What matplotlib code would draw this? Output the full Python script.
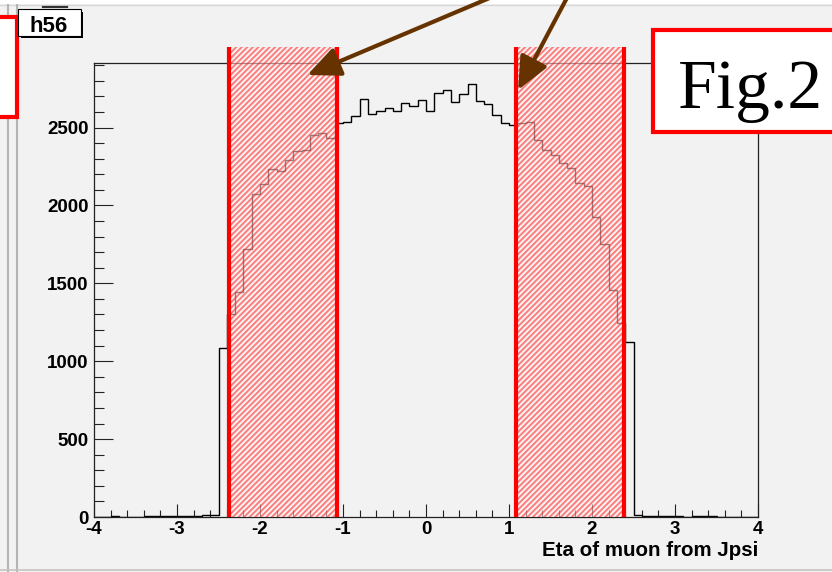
import matplotlib.pyplot as plt
import numpy as np
from matplotlib.lines import Line2D
from matplotlib.patches import Rectangle
from matplotlib.ticker import MultipleLocator

plt.rcParams.update({"font.family": ["Liberation Sans", "DejaVu Sans"],
                     "font.weight": "bold",
                     "axes.unicode_minus": False,
                     "hatch.linewidth": 1.3})

W, H = 832, 572

# eta of muons from J/psi, 80 bins of 0.1 between -4 and 4
edges = np.linspace(-4, 4, 81)
counts = [0, 0, 4, 0, 0, 3, 6, 5, 4, 6, 7, 5, 8, 12, 14,
          1087, 1300, 1446, 1718, 2071, 2135, 2231, 2221, 2291, 2349,
          2356, 2452, 2467, 2435, 2528, 2537, 2574, 2681, 2587, 2608,
          2623, 2608, 2655, 2640, 2674, 2608, 2723, 2741, 2662, 2713,
          2779, 2670, 2651, 2580, 2531, 2516, 2528, 2534, 2420, 2356,
          2323, 2270, 2242, 2142, 2125, 1928, 1750, 1457, 1243, 1125,
          13, 5, 4, 6, 4, 5, 3, 4, 5, 4, 0, 0, 3, 0, 0]
y_max = 2914

# shaded eta windows
band_lo = [-2.37, 1.09]
band_hi = [-1.07, 2.39]
band_top = 3015

# arrow tips (data) and tails (figure pixels, off the top edge)
arrow_tips = [(-1.43, 2837), (1.11, 2741)]
arrow_tails = [(499, 578), (569, 578)]


def px(x, y):
    """top-left pixel position -> figure fraction"""
    return x / W, 1 - y / H


def fig_rect(fig, x0, y0, x1, y1, **kw):
    fx0, fy1 = px(x0, y1)
    rect = Rectangle((fx0, fy1), (x1 - x0) / W, (y1 - y0) / H,
                     transform=fig.transFigure, **kw)
    fig.patches.append(rect)
    return rect


def fig_line(fig, xs, ys, **kw):
    fxs = [x / W for x in xs]
    fys = [1 - y / H for y in ys]
    fig.lines.append(Line2D(fxs, fys, transform=fig.transFigure, **kw))


fig = plt.figure(figsize=(W / 100, H / 100), dpi=100, facecolor="#f2f2f2")

# window frame
fig_rect(fig, 0, 0, W, 3.5, facecolor="white", edgecolor="none", zorder=-1)
fig_line(fig, [0, W], [4.5, 4.5], color="#d6d6d6", lw=1, zorder=-1)
fig_line(fig, [8, 8], [0, H], color="#b4b4b4", lw=1.5, zorder=-1)
fig_line(fig, [17, 17], [0, H], color="#b4b4b4", lw=1.5, zorder=-1)
fig_line(fig, [0, W], [570, 570], color="#c4c4c4", lw=1.2, zorder=-1)

ax = fig.add_axes([94 / W, 1 - 517 / H, (758 - 94) / W, (517 - 63) / H])
ax.set_facecolor("#f2f2f2")

ax.stairs(counts, edges, color="black", lw=1.0, zorder=2)

for lo, hi in zip(band_lo, band_hi):
    ax.add_patch(Rectangle((lo, 0), hi - lo, band_top,
                           facecolor=(1, 0.93, 0.93, 0.55),
                           edgecolor=(1, 0.1, 0.1, 0.55),
                           hatch="//////", lw=0, clip_on=False, zorder=3))
    ax.vlines([lo, hi], 0, band_top, colors="red", lw=3,
              clip_on=False, zorder=4)

for tip, tail in zip(arrow_tips, arrow_tails):
    ax.annotate("", xy=tip, xycoords="data",
                xytext=tail, textcoords="figure pixels",
                arrowprops=dict(arrowstyle="-|>,head_length=1.0,head_width=0.45",
                                mutation_scale=20, color="#663300", lw=3,
                                shrinkA=0, shrinkB=0),
                annotation_clip=False, zorder=5)

ax.set_xlim(-4, 4)
ax.set_ylim(0, y_max)
ax.xaxis.set_major_locator(MultipleLocator(1))
ax.xaxis.set_minor_locator(MultipleLocator(0.2))
ax.yaxis.set_major_locator(MultipleLocator(500))
ax.yaxis.set_minor_locator(MultipleLocator(100))
ax.tick_params(axis="x", which="major", direction="in", length=9.6, width=0.8,
               labelsize=13.5, pad=3, color="#222222")
ax.tick_params(axis="x", which="minor", direction="in", length=5.3, width=0.8,
               color="#222222")
ax.tick_params(axis="y", which="major", direction="in", length=13.7, width=0.8,
               labelsize=13.5, pad=4, color="#222222")
ax.tick_params(axis="y", which="minor", direction="in", length=7, width=0.8,
               color="#222222")
for sp in ax.spines.values():
    sp.set_color("#222222")
    sp.set_linewidth(0.9)
ax.set_xlabel("Eta of muon from Jpsi", fontsize=14.8, fontweight="bold",
              loc="right", labelpad=2)

# side box, histogram name and figure tag
fig_rect(fig, -5, 17, 17, 117, facecolor="white", edgecolor="red", lw=3)
fig_line(fig, [43, 67], [7, 7], color="#333333", lw=1.6)
fig_rect(fig, 21, 12, 83, 38, facecolor="black", edgecolor="none")
fig_rect(fig, 18, 9, 81, 36, facecolor="white", edgecolor="black", lw=0.8)
fig.text(*px(49, 32), "h56", fontsize=16, fontweight="bold",
         ha="center", va="baseline")
fig_rect(fig, 653, 30, 850, 132, facecolor="white", edgecolor="red", lw=3)
fig.text(*px(678, 108), "Fig.2", fontsize=50, fontweight="normal",
         family="Liberation Serif", ha="left", va="baseline")

fig.savefig("out.png", dpi=100, facecolor=fig.get_facecolor())
